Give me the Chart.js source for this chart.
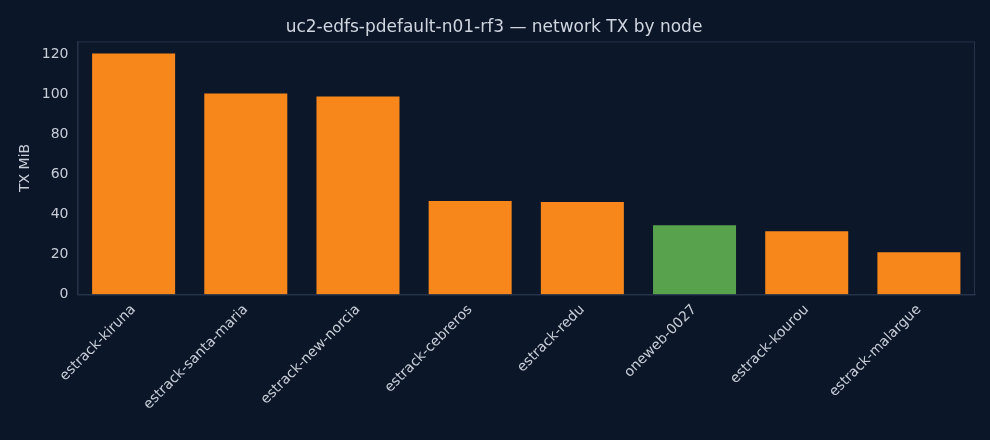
<!DOCTYPE html>
<html><head><meta charset="utf-8">
<script src="https://cdn.jsdelivr.net/npm/chart.js@4/dist/chart.umd.min.js"></script>
<style>html,body{margin:0;padding:0;background:#0b1628;}#w{width:990px;height:440px;}</style>
</head><body><div id="w"><canvas id="c"></canvas></div>
<script>
const categories = ["estrack-kiruna","estrack-santa-maria","estrack-new-norcia","estrack-cebreros","estrack-redu","oneweb-0027","estrack-kourou","estrack-malargue"];
const txValues = [120.5, 100.4, 98.9, 46.7, 46.2, 34.6, 31.6, 21.1];
const barColors = ["#f7871a","#f7871a","#f7871a","#f7871a","#f7871a","#58a24e","#f7871a","#f7871a"];
const yTicks = [0,20,40,60,80,100,120];

const areaPlugin = {
  id:'area',
  beforeDraw(c){const a=c.chartArea,x=c.ctx;x.save();x.fillStyle='#0c1729';x.fillRect(a.left,a.top,a.right-a.left,a.bottom-a.top);x.restore();},
  afterDraw(c){const a=c.chartArea,x=c.ctx;x.save();x.strokeStyle='#27334a';x.lineWidth=1;x.strokeRect(a.left+0.5,a.top+0.5,a.right-a.left-1,a.bottom-a.top);x.restore();}
};
Chart.defaults.font.family = "'DejaVu Sans', sans-serif";
new Chart(document.getElementById('c'), {
  type:'bar',
  data:{labels:categories,datasets:[{data:txValues,backgroundColor:barColors,barPercentage:0.74,categoryPercentage:1}]},
  options:{
    responsive:true,maintainAspectRatio:false,animation:false,
    layout:{padding:{left:13,right:15,top:5,bottom:25}},
    plugins:{legend:{display:false},tooltip:{enabled:false},
      title:{display:true,text:'uc2-edfs-pdefault-n01-rf3 — network TX by node',color:'#d0d6e0',font:{size:17,weight:'normal'},padding:{top:12,bottom:4}}},
    scales:{
      x:{grid:{display:false,drawTicks:true,tickColor:'#c8ced8',tickLength:5},border:{color:'#27334a'},
        ticks:{color:'#c8ced8',font:{size:14},maxRotation:45,minRotation:45,padding:2}},
      y:{min:0,max:126.5,afterBuildTicks(s){s.ticks=yTicks.map(v=>({value:v}));},
        grid:{display:false,drawTicks:true,tickColor:'#c8ced8',tickLength:5},border:{color:'#27334a'},
        ticks:{color:'#c8ced8',font:{size:14},padding:4},
        title:{display:true,text:'TX MiB',color:'#c8ced8',font:{size:14}}}
    }
  },
  plugins:[areaPlugin]
});
</script></body></html>
